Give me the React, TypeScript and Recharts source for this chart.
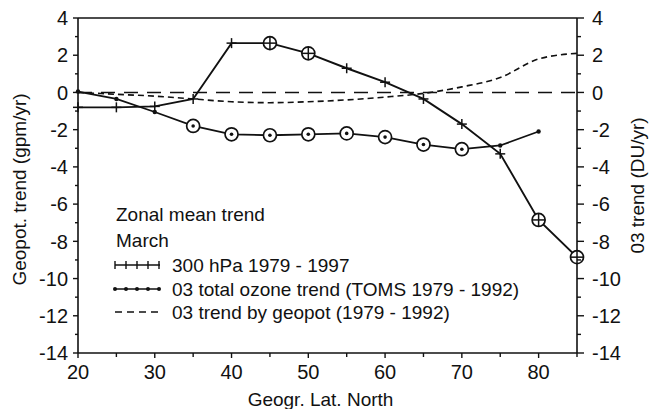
import React from 'react';
import { ComposedChart, Line, XAxis, YAxis, ReferenceLine } from 'recharts';

const latitudes = [20, 25, 30, 35, 40, 45, 50, 55, 60, 65, 70, 75, 80, 85];
const geopot300 = [-0.8, -0.8, -0.75, -0.35, 2.65, 2.65, 2.1, 1.3, 0.55, -0.35, -1.7, -3.3, -6.85, -8.85];
const geopot300Signif = [false, false, false, false, false, true, true, false, false, false, false, false, true, true];
const ozoneToms = [0.05, -0.35, -1.05, -1.8, -2.25, -2.3, -2.25, -2.2, -2.4, -2.8, -3.05, -2.85, -2.1, null];
const ozoneSignif = [false, false, false, true, true, true, true, true, true, true, true, false, false, false];
const ozoneByGeopot = [0.0, -0.1, -0.2, -0.35, -0.5, -0.55, -0.5, -0.4, -0.25, -0.05, 0.3, 0.8, 1.8, 2.1];

const xTicks = [20, 25, 30, 35, 40, 45, 50, 55, 60, 65, 70, 75, 80, 85];
const xTickLabels = [20, 30, 40, 50, 60, 70, 80];
const yTicks = [-14, -13, -12, -11, -10, -9, -8, -7, -6, -5, -4, -3, -2, -1, 0, 1, 2, 3, 4];
const yTickLabels = [-14, -12, -10, -8, -6, -4, -2, 0, 2, 4];

const legendTitle = ['Zonal mean trend', 'March'];
const seriesNames = [
  '300 hPa 1979 - 1997',
  '03 total ozone trend (TOMS 1979 - 1992)',
  '03 trend by geopot (1979 - 1992)',
];
const xTitle = 'Geogr. Lat. North';
const yLeftTitle = 'Geopot. trend (gpm/yr)';
const yRightTitle = '03 trend (DU/yr)';

const data = latitudes.map((lat, i) => ({
  lat,
  g300: geopot300[i],
  g300s: geopot300Signif[i],
  toms: ozoneToms[i],
  tomss: ozoneSignif[i],
  byg: ozoneByGeopot[i],
}));

const FONT = '"Liberation Sans", Arial, Helvetica, sans-serif';
const FS = 19;
const TFS = 20;
const INK = '#111';

const XTick = (props: any) => {
  const { x, y, payload } = props;
  const v = payload.value;
  const major = xTickLabels.includes(v);
  return (
    <g>
      <line x1={x} x2={x} y1={y} y2={y + (major ? 5 : 4)} stroke={INK} strokeWidth={1.4} />
      {major && (
        <text x={x} y={y + 12} dy="0.71em" textAnchor="middle" fontFamily={FONT} fontSize={TFS} fill={INK}>
          {v}
        </text>
      )}
    </g>
  );
};

const YTickLeft = (props: any) => {
  const { x, y, payload } = props;
  const v = payload.value;
  const major = yTickLabels.includes(v);
  return (
    <g>
      <line x1={x} x2={x - (major ? 5 : 3)} y1={y} y2={y} stroke={INK} strokeWidth={1.4} />
      {major && (
        <text x={x - 10} y={y} dy="0.36em" textAnchor="end" fontFamily={FONT} fontSize={TFS} fill={INK}>
          {v}
        </text>
      )}
    </g>
  );
};

const YTickRight = (props: any) => {
  const { x, y, payload } = props;
  const v = payload.value;
  const major = yTickLabels.includes(v);
  return (
    <g>
      <line x1={x} x2={x + (major ? 7 : 4)} y1={y} y2={y} stroke={INK} strokeWidth={1.4} />
      {major && (
        <text x={x + 15} y={y} dy="0.36em" textAnchor="start" fontFamily={FONT} fontSize={TFS} fill={INK}>
          {v}
        </text>
      )}
    </g>
  );
};

const PlusDot = (props: any) => {
  const { cx, cy, payload, index } = props;
  if (cx == null || cy == null) return <g key={`p${index}`} />;
  if (payload.g300s) {
    const r = 6.5;
    return (
      <g key={`p${index}`}>
        <circle cx={cx} cy={cy} r={r} fill="#fff" stroke={INK} strokeWidth={1.7} />
        <line x1={cx - r} x2={cx + r} y1={cy} y2={cy} stroke={INK} strokeWidth={1.5} />
        <line x1={cx} x2={cx} y1={cy - r} y2={cy + r} stroke={INK} strokeWidth={1.5} />
      </g>
    );
  }
  return (
    <g key={`p${index}`}>
      <line x1={cx - 5} x2={cx + 5} y1={cy} y2={cy} stroke={INK} strokeWidth={1.5} />
      <line x1={cx} x2={cx} y1={cy - 5} y2={cy + 5} stroke={INK} strokeWidth={1.5} />
    </g>
  );
};

const OzoneDot = (props: any) => {
  const { cx, cy, payload, index } = props;
  if (cx == null || cy == null || payload.toms == null) return <g key={`o${index}`} />;
  if (payload.tomss) {
    return (
      <g key={`o${index}`}>
        <circle cx={cx} cy={cy} r={6.5} fill="#fff" stroke={INK} strokeWidth={1.7} />
        <circle cx={cx} cy={cy} r={1.8} fill={INK} />
      </g>
    );
  }
  return <circle key={`o${index}`} cx={cx} cy={cy} r={2.2} fill={INK} />;
};

const LegendBox = () => {
  const sy = [75, 99, 122];
  const tx = 72;
  return (
    <svg
      width={470}
      height={140}
      style={{ position: 'absolute', left: 100, top: 190, display: 'block', overflow: 'visible', pointerEvents: 'none' }}
    >
      <text x={16} y={31} fontFamily={FONT} fontSize={FS} fill={INK}>{legendTitle[0]}</text>
      <text x={16} y={57} fontFamily={FONT} fontSize={FS} fill={INK}>{legendTitle[1]}</text>
      <line x1={15} x2={60} y1={sy[0]} y2={sy[0]} stroke={INK} strokeWidth={1.4} />
      {[15, 26, 37, 48, 59].map((px) => (
        <line key={px} x1={px} x2={px} y1={sy[0] - 4} y2={sy[0] + 4} stroke={INK} strokeWidth={1.4} />
      ))}
      <text x={tx} y={82} fontFamily={FONT} fontSize={FS} fill={INK}>{seriesNames[0]}</text>
      <line x1={15} x2={60} y1={sy[1]} y2={sy[1]} stroke={INK} strokeWidth={1.4} />
      {[15, 26, 37, 48, 59].map((px) => (
        <circle key={px} cx={px} cy={sy[1]} r={2} fill={INK} />
      ))}
      <text x={tx} y={106} fontFamily={FONT} fontSize={FS} fill={INK}>{seriesNames[1]}</text>
      <line x1={15} x2={58} y1={sy[2]} y2={sy[2]} stroke={INK} strokeWidth={1.4} strokeDasharray="7 5" />
      <text x={tx} y={129} fontFamily={FONT} fontSize={FS} fill={INK}>{seriesNames[2]}</text>
    </svg>
  );
};

export default function App() {
  return (
    <div style={{ position: 'absolute', left: 0, top: 0, width: 653, height: 409, background: '#fff' }}>
      <ComposedChart width={653} height={409} data={data} margin={{ top: 18, right: 0, bottom: 0, left: 0 }}>
        <XAxis
          dataKey="lat"
          type="number"
          domain={[20, 85]}
          ticks={xTicks}
          interval={0}
          tickSize={0}
          tickMargin={0}
          tickLine={false}
          height={56}
          axisLine={{ stroke: INK, strokeWidth: 1.6 }}
          tick={(p: any) => <XTick {...p} />}
          label={{
            content: (p: any) => {
              const vb = p.viewBox || { x: 78, y: 353, width: 499, height: 56 };
              return (
                <text x={vb.x + vb.width / 2 - 7} y={406} textAnchor="middle" fontFamily={FONT} fontSize={FS} fill={INK}>
                  {xTitle}
                </text>
              );
            },
          }}
        />
        <YAxis
          yAxisId="left"
          orientation="left"
          type="number"
          domain={[-14, 4]}
          ticks={yTicks}
          interval={0}
          width={78}
          tickSize={0}
          tickMargin={0}
          tickLine={false}
          axisLine={{ stroke: INK, strokeWidth: 1.6 }}
          tick={(p: any) => <YTickLeft {...p} />}
          label={{
            content: (p: any) => {
              const vb = p.viewBox || { x: 0, y: 18, width: 78, height: 335 };
              const cx = 19;
              const cy = vb.y + vb.height / 2 + 4;
              return (
                <text x={cx} y={cy} transform={`rotate(-90 ${cx} ${cy})`} textAnchor="middle" dy="0.36em" fontFamily={FONT} fontSize={FS} fill={INK}>
                  {yLeftTitle}
                </text>
              );
            },
          }}
        />
        <YAxis
          yAxisId="right"
          orientation="right"
          type="number"
          domain={[-14, 4]}
          ticks={yTicks}
          interval={0}
          width={76}
          tickSize={0}
          tickMargin={0}
          tickLine={false}
          axisLine={{ stroke: INK, strokeWidth: 1.6 }}
          tick={(p: any) => <YTickRight {...p} />}
          label={{
            content: (p: any) => {
              const vb = p.viewBox || { x: 577, y: 18, width: 76, height: 335 };
              const cx = 637;
              const cy = vb.y + vb.height / 2;
              return (
                <text x={cx} y={cy} transform={`rotate(-90 ${cx} ${cy})`} textAnchor="middle" dy="0.36em" fontFamily={FONT} fontSize={FS} fill={INK}>
                  {yRightTitle}
                </text>
              );
            },
          }}
        />
        <ReferenceLine yAxisId="left" y={4} stroke={INK} strokeWidth={1.6} />
        <ReferenceLine yAxisId="left" y={0} stroke={INK} strokeWidth={1.5} strokeDasharray="14 9" />
        <Line
          yAxisId="right"
          type="monotone"
          dataKey="byg"
          stroke={INK}
          strokeWidth={1.6}
          strokeDasharray="6 4"
          dot={false}
          isAnimationActive={false}
        />
        <Line
          yAxisId="right"
          type="linear"
          dataKey="toms"
          stroke={INK}
          strokeWidth={1.8}
          dot={(p: any) => <OzoneDot {...p} />}
          isAnimationActive={false}
        />
        <Line
          yAxisId="left"
          type="linear"
          dataKey="g300"
          stroke={INK}
          strokeWidth={1.9}
          dot={(p: any) => <PlusDot {...p} />}
          isAnimationActive={false}
        />
      </ComposedChart>
      <LegendBox />
    </div>
  );
}
